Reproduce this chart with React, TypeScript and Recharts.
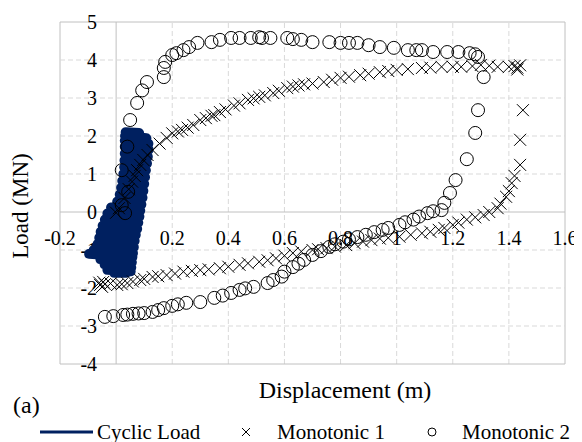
import React from "react"
import {
  ReferenceLine,
  Scatter,
  ScatterChart,
  XAxis,
  YAxis,
} from "recharts"

// Axis ticks
const xTicks = [-0.2, 0, 0.2, 0.4, 0.6, 0.8, 1, 1.2, 1.4, 1.6]
const yTicks = [-4, -3, -2, -1, 0, 1, 2, 3, 4, 5]

// Cyclic load test (displacement m, load MN)
const cyclicDisp = [
  0.034, 0.082, 0.032, 0.108, 0.031, 0.115, 0.031, 0.116, 0.031, 0.113, 0.03, 0.11,
  0.029, 0.106, 0.026, 0.103, 0.022, 0.1, 0.018, 0.097, 0.013, 0.094, 0.004, 0.09,
  -0.018, 0.086, -0.031, 0.083, -0.04, 0.079, -0.048, 0.075, -0.055, 0.07, -0.06,
  0.066, -0.066, 0.063, -0.08, 0.06, -0.096, 0.058, -0.056, 0.056, -0.041, 0.054,
  -0.031, 0.052, -0.006, 0.038,
]
const cyclicLoad = [
  2.1, 2.08, 2.0, 1.94, 1.88, 1.8, 1.72, 1.64, 1.54, 1.46, 1.36, 1.28, 1.18, 1.1,
  1.0, 0.92, 0.82, 0.74, 0.64, 0.56, 0.46, 0.38, 0.28, 0.2, 0.12, 0.04, -0.04, -0.12,
  -0.2, -0.28, -0.36, -0.44, -0.52, -0.6, -0.68, -0.76, -0.84, -0.92, -1.0, -1.08,
  -1.1, -1.18, -1.24, -1.32, -1.38, -1.46, -1.52, -1.56, -1.6, -1.6,
]

// Monotonic test 1
const mono1Disp = [
  0.0, 0.01, 0.03, 0.045, 0.057, 0.066, 0.075, 0.086, 0.097, 0.112, 0.13, 0.155, 0.18,
  0.2, 0.22, 0.235, 0.255, 0.275, 0.3, 0.32, 0.34, 0.35, 0.37, 0.39, 0.42, 0.44, 0.47,
  0.49, 0.51, 0.53, 0.56, 0.58, 0.61, 0.63, 0.65, 0.67, 0.7, 0.74, 0.77, 0.8, 0.83,
  0.87, 0.9, 0.94, 0.97, 1.0, 1.04, 1.09, 1.12, 1.16, 1.2, 1.23, 1.27, 1.3, 1.33, 1.36,
  1.4, 1.42, 1.43, 1.44, 1.43, 1.45, 1.44, 1.44, 1.42, 1.41, 1.4, 1.39, 1.37, 1.36,
  1.33, 1.31, 1.28, 1.25, 1.22, 1.2, 1.17, 1.15, 1.12, 1.09, 1.05, 1.01, 0.97, 0.94,
  0.91, 0.88, 0.85, 0.82, 0.78, 0.75, 0.72, 0.7, 0.66, 0.63, 0.6, 0.57, 0.54, 0.51,
  0.47, 0.44, 0.4, 0.37, 0.33, 0.3, 0.27, 0.24, 0.21, 0.18, 0.15, 0.13, 0.1, 0.086,
  0.06, 0.04, 0.02, 0.004, -0.02, -0.046, -0.057, -0.05, -0.04, -0.06,
]
const mono1Load = [
  -0.02, 0.1, 0.37, 0.6, 0.8, 0.95, 1.1, 1.24, 1.37, 1.5, 1.63, 1.8, 1.95, 2.07, 2.12,
  2.16, 2.22, 2.29, 2.42, 2.47, 2.53, 2.55, 2.63, 2.7, 2.8, 2.86, 2.95, 2.99, 3.03,
  3.07, 3.13, 3.19, 3.26, 3.3, 3.33, 3.36, 3.38, 3.42, 3.48, 3.53, 3.56, 3.6, 3.64,
  3.68, 3.71, 3.74, 3.76, 3.79, 3.8, 3.82, 3.82, 3.82, 3.84, 3.87, 3.85, 3.82, 3.82,
  3.84, 3.8, 3.86, 3.75, 2.68, 1.9, 1.24, 0.95, 0.76, 0.55, 0.4, 0.22, 0.1, 0.0, -0.08,
  -0.14, -0.2, -0.28, -0.34, -0.42, -0.47, -0.52, -0.56, -0.6, -0.65, -0.68, -0.7,
  -0.74, -0.78, -0.82, -0.87, -0.91, -0.95, -0.98, -1.0, -1.04, -1.08, -1.15, -1.22,
  -1.27, -1.31, -1.35, -1.39, -1.44, -1.48, -1.51, -1.53, -1.55, -1.57, -1.62, -1.66,
  -1.69, -1.71, -1.76, -1.79, -1.83, -1.87, -1.9, -1.92, -1.88, -1.84, -1.92, -1.97,
  -1.9, -1.86,
]

// Monotonic test 2
const mono2Disp = [
  0.032, 0.02, 0.043, 0.02, 0.04, 0.05, 0.075, 0.093, 0.11, 0.17, 0.17, 0.175, 0.2,
  0.215, 0.24, 0.26, 0.29, 0.34, 0.37, 0.41, 0.44, 0.48, 0.51, 0.52, 0.55, 0.61, 0.63,
  0.66, 0.7, 0.76, 0.8, 0.83, 0.86, 0.9, 0.94, 0.99, 1.04, 1.07, 1.09, 1.13, 1.18,
  1.22, 1.26, 1.28, 1.29, 1.31, 1.29, 1.28, 1.25, 1.21, 1.19, 1.17, 1.16, 1.13, 1.11,
  1.08, 1.06, 1.03, 1.01, 0.97, 0.95, 0.92, 0.89, 0.86, 0.83, 0.81, 0.78, 0.76, 0.73,
  0.7, 0.67, 0.65, 0.63, 0.6, 0.59, 0.56, 0.54, 0.49, 0.46, 0.44, 0.41, 0.38, 0.35,
  0.3, 0.25, 0.22, 0.2, 0.17, 0.15, 0.13, 0.1, 0.08, 0.06, 0.04, 0.025, -0.01, -0.04,
]
const mono2Load = [
  -0.03, 0.18, 0.53, 1.1, 1.72, 2.42, 2.87, 3.2, 3.42, 3.55, 3.79, 3.95, 4.13, 4.18,
  4.26, 4.34, 4.45, 4.47, 4.53, 4.58, 4.58, 4.58, 4.6, 4.58, 4.58, 4.58, 4.55, 4.53,
  4.47, 4.47, 4.45, 4.45, 4.45, 4.39, 4.34, 4.32, 4.26, 4.26, 4.26, 4.21, 4.21, 4.21,
  4.18, 4.15, 4.08, 3.55, 2.68, 2.08, 1.39, 0.84, 0.5, 0.24, 0.05, 0.02, -0.03, -0.12,
  -0.2, -0.27, -0.34, -0.42, -0.47, -0.53, -0.6, -0.66, -0.72, -0.78, -0.85, -0.92,
  -1.03, -1.13, -1.26, -1.36, -1.45, -1.57, -1.7, -1.79, -1.87, -1.97, -2.01, -2.05,
  -2.13, -2.2, -2.26, -2.37, -2.39, -2.43, -2.47, -2.53, -2.58, -2.63, -2.66, -2.67,
  -2.68, -2.7, -2.71, -2.74, -2.76,
]

const NAVY = "#002060"
const GRID = "#d9d9d9"
const AXIS = "#c0c0c0"
const FONT = "'Times New Roman', Times, 'Liberation Serif', 'DejaVu Serif', serif"

const toPoints = (xs: number[], ys: number[]) => xs.map((x, i) => ({ x, y: ys[i] }))

const cyclicData = toPoints(cyclicDisp, cyclicLoad)
const mono1Data = toPoints(mono1Disp, mono1Load)
const mono2Data = toPoints(mono2Disp, mono2Load)
const xTickData = xTicks.map((x) => ({ x, y: 0 }))
const yTickData = yTicks.map((y) => ({ x: 0, y }))

const CrossMark = (props: any) => {
  const { cx, cy } = props
  const s = 6
  return (
    <path
      d={`M${cx - s},${cy - s}L${cx + s},${cy + s}M${cx - s},${cy + s}L${cx + s},${cy - s}`}
      stroke="#000"
      strokeWidth={1}
      fill="none"
    />
  )
}

const RingMark = (props: any) => {
  const { cx, cy } = props
  return <circle cx={cx} cy={cy} r={6.5} stroke="#000" strokeWidth={1} fill="none" />
}

// tick labels sit beside the zero axes, not at the plot edges
const XTickLabel = (props: any) => (
  <text x={props.cx} y={props.cy + 33} textAnchor="middle" style={{ fontFamily: FONT, fontSize: 20 }} fill="#000">
    {props.payload.x}
  </text>
)

const YTickLabel = (props: any) => (
  <text x={props.cx - 19} y={props.cy + 7} textAnchor="end" style={{ fontFamily: FONT, fontSize: 20 }} fill="#000">
    {props.payload.y}
  </text>
)

const NoMark = () => <g />

export default function App() {
  const lineFor = (v: number, edge: boolean) =>
    edge || v === 0 ? { stroke: AXIS } : { stroke: GRID, strokeDasharray: "5 3" }

  return (
    <div style={{ position: "relative", width: 574, height: 434, fontFamily: FONT, color: "#000" }}>
      <ScatterChart width={574} height={380} margin={{ top: 14, right: 17, bottom: 24, left: 52 }}>
        <XAxis type="number" dataKey="x" domain={[-0.2, 1.6]} ticks={xTicks} hide />
        <YAxis type="number" dataKey="y" domain={[-4, 5]} ticks={yTicks} hide />
        {xTicks.map((v, i) => (
          <ReferenceLine key={`vx${v}`} x={v} {...lineFor(v, i === 0 || i === xTicks.length - 1)} />
        ))}
        {yTicks.map((v, i) => (
          <ReferenceLine key={`hy${v}`} y={v} {...lineFor(v, i === 0 || i === yTicks.length - 1)} />
        ))}
        <Scatter data={xTickData} shape={XTickLabel} isAnimationActive={false} legendType="none" />
        <Scatter data={yTickData} shape={YTickLabel} isAnimationActive={false} legendType="none" />
        <Scatter
          name="Cyclic Load"
          data={cyclicData}
          shape={NoMark}
          line={{ stroke: NAVY, strokeWidth: 10, strokeLinejoin: "round", strokeLinecap: "round" }}
          lineType="joint"
          isAnimationActive={false}
        />
        <Scatter name="Monotonic 1" data={mono1Data} shape={CrossMark} isAnimationActive={false} />
        <Scatter name="Monotonic 2" data={mono2Data} shape={RingMark} isAnimationActive={false} />
      </ScatterChart>

      <div
        style={{
          position: "absolute",
          left: 12,
          top: 198,
          fontSize: 23,
          lineHeight: 1,
          whiteSpace: "nowrap",
          transform: "translate(-50%, -50%) rotate(-90deg)",
        }}
      >
        Load (MN)
      </div>
      <div
        style={{
          position: "absolute",
          left: 337,
          top: 382,
          fontSize: 24,
          lineHeight: 1,
          whiteSpace: "nowrap",
          transform: "translate(-50%, -50%)",
        }}
      >
        Displacement (m)
      </div>
      <div style={{ position: "absolute", left: 5, top: 397, fontSize: 24, lineHeight: 1, transform: "translateY(-50%)" }}>
        (a)
      </div>

      {/* legend */}
      <div style={{ position: "absolute", left: 0, top: 424, width: 574, height: 0, fontSize: 21, lineHeight: 1 }}>
        <svg width={574} height={20} style={{ position: "absolute", left: 0, top: -10 }}>
          <line x1={32} x2={85} y1={10} y2={10} stroke={NAVY} strokeWidth={3} />
          <path d="M234,6L242,14M234,14L242,6" stroke="#000" strokeWidth={1} />
          <circle cx={424} cy={10} r={4} stroke="#000" strokeWidth={1} fill="none" />
        </svg>
        <span style={{ position: "absolute", left: 89, top: 0, transform: "translateY(-50%)", whiteSpace: "nowrap" }}>
          Cyclic Load
        </span>
        <span style={{ position: "absolute", left: 269, top: 0, transform: "translateY(-50%)", whiteSpace: "nowrap" }}>
          Monotonic 1
        </span>
        <span style={{ position: "absolute", left: 454, top: 0, transform: "translateY(-50%)", whiteSpace: "nowrap" }}>
          Monotonic 2
        </span>
      </div>
    </div>
  )
}
